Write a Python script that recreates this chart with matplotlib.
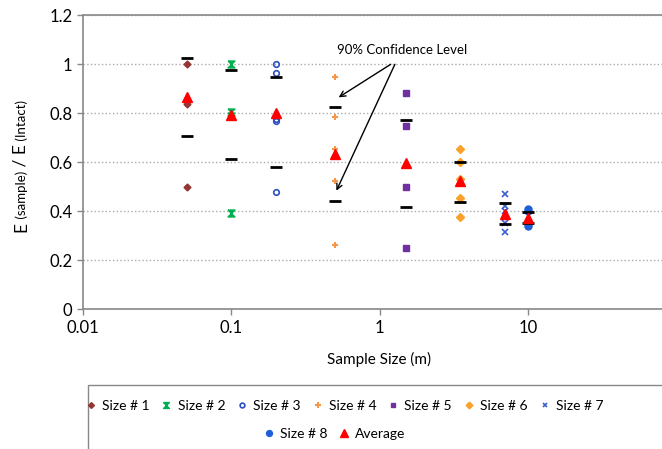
import matplotlib
matplotlib.use('Agg')
import matplotlib.pyplot as plt
from matplotlib.patches import Rectangle

plt.rcParams['font.family'] = ['Lato', 'DejaVu Sans']

# sample sizes (m)
sizes = [0.05, 0.1, 0.2, 0.5, 1.5, 3.5, 7, 10]

# E(sample)/E(intact) for each sample size
s1 = [1.0, 0.837, 0.5]
s2 = [1.0, 0.807, 0.79, 0.393]
s3 = [1.0, 0.963, 0.778, 0.77, 0.48]
s4 = [0.95, 0.785, 0.654, 0.524, 0.261]
s5 = [0.884, 0.75, 0.5, 0.249]
s6 = [0.654, 0.6, 0.53, 0.453, 0.375]
s7 = [0.469, 0.423, 0.40, 0.351, 0.314]
s8 = [0.41, 0.40, 0.347, 0.34]
avg = [0.866, 0.793, 0.8, 0.633, 0.596, 0.522, 0.389, 0.371]
ci_hi = [1.027, 0.977, 0.95, 0.827, 0.774, 0.6, 0.435, 0.396]
ci_lo = [0.707, 0.613, 0.58, 0.442, 0.419, 0.439, 0.348, 0.354]

labels = ['Size # 1', 'Size # 2', 'Size # 3', 'Size # 4', 'Size # 5',
          'Size # 6', 'Size # 7', 'Size # 8']

bowtie = [(-1, 1), (1, 1), (-1, -1), (1, -1), (-1, 1)]
styles = [
    dict(marker='D', color='#943634', ms=3.5, mfc='#943634'),
    dict(marker=bowtie, color='#00B050', ms=5, mfc='#00B050'),
    dict(marker='o', color='#2E4FBF', ms=4, mfc='none', mew=1.2),
    dict(marker='+', color='#F79646', ms=5, mew=1.5),
    dict(marker='s', color='#7030A0', ms=4, mfc='#7030A0'),
    dict(marker='D', color='#F9A12A', ms=4, mfc='#F9A12A'),
    dict(marker='x', color='#3A5FCD', ms=4, mew=1.2),
    dict(marker='o', color='#1F5FD6', ms=5, mfc='#1F5FD6'),
]

fig = plt.figure(figsize=(6.62, 4.49), dpi=100)
ax = fig.add_axes([83 / 662, 1 - 309.3 / 449, 593 / 662, 294 / 449])

groups = [s1, s2, s3, s4, s5, s6, s7, s8]
handles = []
for x, vals, lab, st in zip(sizes, groups, labels, styles):
    h, = ax.plot([x] * len(vals), vals, ls='none', label=lab, zorder=3, **st)
    handles.append(h)

ax.plot(sizes, ci_hi, ls='none', marker='_', color='black', ms=8, mew=2, zorder=4)
ax.plot(sizes, ci_lo, ls='none', marker='_', color='black', ms=8, mew=2, zorder=4)
ha, = ax.plot(sizes, avg, ls='none', marker='^', color='#FF0000', ms=6.5, label='Average', zorder=5)
handles.append(ha)

ax.set_xscale('log')
ax.set_xlim(0.01, 100)
ax.set_ylim(0, 1.2)
ax.set_xticks([0.01, 0.1, 1, 10])
ax.set_xticklabels(['0.01', '0.1', '1', '10'])
ax.xaxis.set_minor_locator(matplotlib.ticker.NullLocator())
ax.set_yticks([0, 0.2, 0.4, 0.6, 0.8, 1.0, 1.2])
ax.set_yticklabels(['0', '0.2', '0.4', '0.6', '0.8', '1', '1.2'])
ax.tick_params(labelsize=12, color='#888888', length=4, width=1)
ax.grid(axis='y', ls=':', color='#AAAAAA', lw=1)
ax.set_axisbelow(True)
for side in ['left', 'bottom', 'top']:
    ax.spines[side].set_color('#888888')
    ax.spines[side].set_linewidth(1.2)
ax.spines['right'].set_visible(False)

ax.set_xlabel('Sample Size (m)', fontsize=11, labelpad=12)

# y label built from pieces (smaller parenthesised parts)
parts = [('E', 12.5), (' (sample)', 9.5), (' / E', 12.5), (' (Intact)', 9.5)]
fig.canvas.draw()
r = fig.canvas.get_renderer()
lengths = []
for s, fs in parts:
    t = fig.text(0, 0, s, fontsize=fs, rotation=90)
    lengths.append(t.get_window_extent(r).height)
    t.remove()
pos = 449 - 166 - sum(lengths) / 2  # pixels from bottom
for (s, fs), w in zip(parts, lengths):
    fig.text(26 / 662, pos / 449, s, fontsize=fs, rotation=90,
             ha='left', va='baseline', rotation_mode='anchor')
    pos += w

# annotation
fig.text(402 / 662, 1 - 50 / 449, '90% Confidence Level', fontsize=9.5, ha='center', va='center')
ax.annotate('', xy=(0.53, 0.865), xytext=(1.19, 1.0),
            arrowprops=dict(arrowstyle='->', color='black', lw=1, shrinkA=0, shrinkB=0))
ax.annotate('', xy=(0.512, 0.484), xytext=(1.27, 1.0),
            arrowprops=dict(arrowstyle='->', color='black', lw=1, shrinkA=0, shrinkB=0))

# legend frame and entries
fig.add_artist(Rectangle((88 / 662, -0.1), 1.0, 0.1 + 1 - 385 / 449, transform=fig.transFigure,
                         fill=False, ec='#888888', lw=1))
kw = dict(frameon=False, fontsize=10, handlelength=0.6, handletextpad=0.5,
          columnspacing=0.92, borderaxespad=0, markerscale=0.85)
fig.legend(handles[:7], labels[:7], ncol=7, loc='center left',
           bbox_to_anchor=(81 / 662, 1 - 406 / 449), **kw)
fig.legend(handles[7:], [labels[7], 'Average'], ncol=2, loc='center',
           bbox_to_anchor=(335 / 662, 1 - 434 / 449), **kw)

fig.savefig('out.png', dpi=100)
